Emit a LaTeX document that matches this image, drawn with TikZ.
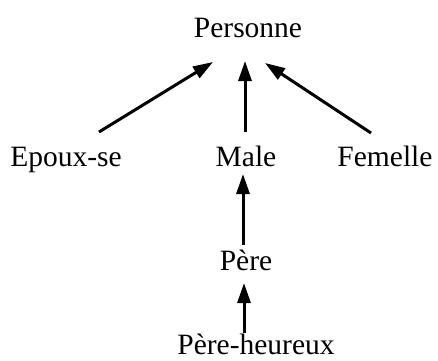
\documentclass[tikz,border=0pt]{standalone}
\usepackage{fontspec}
\setmainfont{Liberation Serif}
\usetikzlibrary{arrows.meta}
\begin{document}
\begin{tikzpicture}[x=1pt,y=1pt,
  lbl/.style={anchor=base,inner sep=0pt,font=\fontsize{29.5}{32}\selectfont},
  arr/.style={line width=3pt,-{Triangle[length=20pt,width=13pt]}}]
\useasboundingbox (0,0) rectangle (438,360);
\node[lbl] (personne) at (248,323) {Personne};
\node[lbl] (epoux) at (66,194) {Epoux-se};
\node[lbl] (male) at (246,194) {Male};
\node[lbl] (femelle) at (385,194) {Femelle};
\node[lbl] (pere) at (246,90) {Père};
\node[lbl] (ph) at (256,6) {Père-heureux};
\draw[arr] ([shift={(33,34)}]epoux.base) -- ([shift={(-35,-25)}]personne.base);
\draw[arr] ([shift={(-1,34)}]male.base) -- ([shift={(-3,-24)}]personne.base);
\draw[arr] ([shift={(-14,33)}]femelle.base) -- ([shift={(17,-26)}]personne.base);
\draw[arr] ([shift={(-3,25)}]pere.base) -- ([shift={(-3,-8)}]male.base);
\draw[arr] ([shift={(-12,21)}]ph.base) -- ([shift={(-2,-13)}]pere.base);
\end{tikzpicture}
\end{document}
